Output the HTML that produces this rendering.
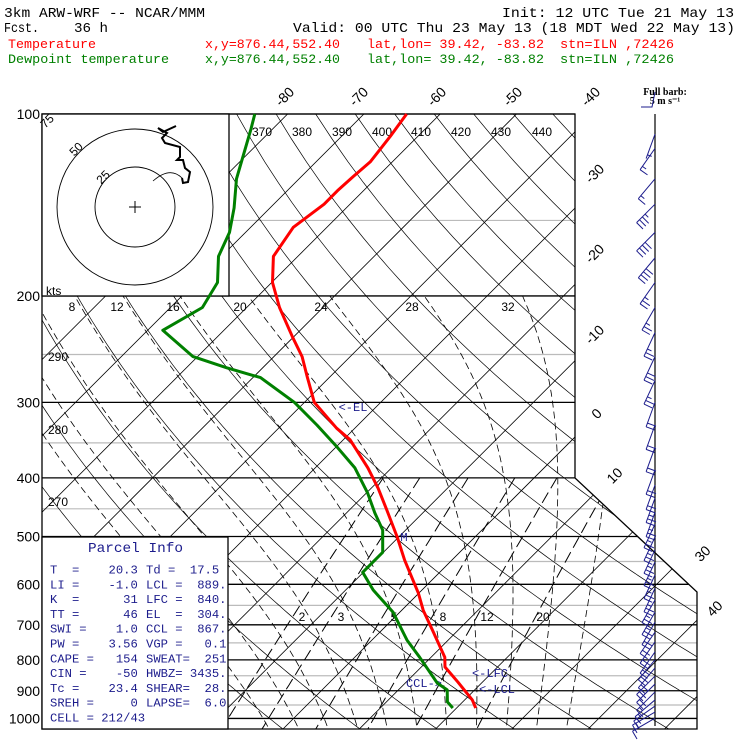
<!DOCTYPE html>
<html><head><meta charset="utf-8"><style>
html,body{margin:0;padding:0;background:#fff}
svg{display:block}
text{font-family:"Liberation Mono",monospace;white-space:pre}
.sans{font-family:"Liberation Sans",sans-serif}
</style></head><body>
<svg id="chart" width="740" height="740" viewBox="0 0 740 740" xmlns="http://www.w3.org/2000/svg" xml:space="preserve">
<defs><clipPath id="plotClip"><path d="M42,114 L575,114 L575,478 L697,592 L697,729 L42,729 Z"/></clipPath></defs>
<g font-size="14">
<text x="4" y="17" textLength="201" lengthAdjust="spacingAndGlyphs">3km ARW-WRF -- NCAR/MMM</text>
<text x="502" y="17" textLength="232" lengthAdjust="spacingAndGlyphs">Init: 12 UTC Tue 21 May 13</text>
<text x="4" y="32" textLength="35" lengthAdjust="spacingAndGlyphs">Fcst.</text>
<text x="74" y="32" textLength="34" lengthAdjust="spacingAndGlyphs">36 h</text>
<text x="293" y="32" textLength="442" lengthAdjust="spacingAndGlyphs">Valid: 00 UTC Thu 23 May 13 (18 MDT Wed 22 May 13)</text>
<g fill="#ff0000" font-size="13">
<text x="8" y="48" textLength="88" lengthAdjust="spacingAndGlyphs">Temperature</text>
<text x="205" y="48" textLength="135" lengthAdjust="spacingAndGlyphs">x,y=876.44,552.40</text>
<text x="367" y="48" textLength="177" lengthAdjust="spacingAndGlyphs">lat,lon= 39.42, -83.82</text>
<text x="560" y="48" textLength="114" lengthAdjust="spacingAndGlyphs">stn=ILN ,72426</text>
</g>
<g fill="#008000" font-size="13">
<text x="8" y="63" textLength="161" lengthAdjust="spacingAndGlyphs">Dewpoint temperature</text>
<text x="205" y="63" textLength="135" lengthAdjust="spacingAndGlyphs">x,y=876.44,552.40</text>
<text x="367" y="63" textLength="177" lengthAdjust="spacingAndGlyphs">lat,lon= 39.42, -83.82</text>
<text x="560" y="63" textLength="114" lengthAdjust="spacingAndGlyphs">stn=ILN ,72426</text>
</g>
</g>
<g id="grid" clip-path="url(#plotClip)"></g>
<g id="overlay"></g>
<g id="data"></g>
</svg>
<script>
const pressureTicks=[100,200,300,400,500,600,700,800,900,1000];
const minorPressures=[150,250,350,450,550,650,750,850,950];
const isoTemps=[-120,-110,-100,-90,-80,-70,-60,-50,-40,-30,-20,-10,0,10,20,30,40,50];
const thetaVals=[250,260,270,280,290,300,310,320,330,340,350,360,370,380,390,400,410,420,430,440,450,460,470,480];
const thetaWVals=[-4,0,4,8,12,16,20,24,28,32,36];
const mixVals=[2,3,5,8,12,20];
const tempP=[100,109,120,127,134,141,154,172,190,209,234,252,272,300,331,346,385,416,452,501,547,620,662,714,792,822,871,932,961];
const tempT=[-64.4,-63.6,-62.9,-63.2,-63.4,-63.4,-64.4,-63.2,-59.9,-55.7,-50.1,-46.3,-43.0,-38.7,-32.4,-29.1,-23.1,-19.1,-15.1,-10.2,-6.2,-0.1,2.8,6.6,11.8,13.1,16.8,21.0,22.5];
const dewP=[100,106,128,143,157,172,190,209,228,252,263,273,300,327,356,385,424,457,488,531,573,613,667,742,792,874,897,939,961];
const dewT=[-84.3,-82.8,-78.2,-74.7,-72.1,-70.4,-67.1,-65.8,-68.0,-60.6,-54.7,-49.0,-41.3,-35.4,-29.8,-24.8,-19.8,-16.3,-13.0,-10.1,-10.1,-6.4,-0.9,4.6,8.5,14.2,16.4,18.0,19.5];
const barbP=[108,114,128,141,157,173,190,209,230,252,276,300,327,356,388,411,432,456,477,501,526,551,579,609,637,667,693,720,747,776,800,825,851,877,904,932,954,976,999];
const barbDir=[200,215,220,225,225,220,215,210,205,205,205,200,200,200,200,200,200,200,205,205,205,205,205,205,210,210,210,215,215,215,220,220,225,225,225,230,235,240,240];
const barbSpd=[2,7,7,17,20,20,12,12,12,15,12,10,10,10,10,10,12,12,12,12,12,12,12,12,12,12,10,10,10,10,10,10,10,10,7,7,7,7,5];
const hodoX=[176,163,158,167,162,165,180,180,177,183,185,190,188,183,182];
const hodoY=[126,132,128,133,138,143,147,157,160,160,168,172,182,183,178];
const parcelRows=[["T  =    20.3","Td =  17.5"],["LI =    -1.0","LCL =  889."],["K  =      31","LFC =  840."],["TT =      46","EL  =  304."],["SWI =    1.0","CCL =  867."],["PW =    3.56","VGP =   0.1"],["CAPE =   154","SWEAT=  251"],["CIN =    -50","HWBZ= 3435."],["Tc =    23.4","SHEAR=  28."],["SREH =     0","LAPSE=  6.0"],["CELL = 212/43",""]];

const NS="http://www.w3.org/2000/svg";
const Y0=114,K=262.5,X0=898,B=7.63;
function yP(p){return Y0+K*Math.log(p/100);}
function xT(T,y){return X0+B*T-(y-Y0);}
function mk(tag,attrs,parent){const e=document.createElementNS(NS,tag);for(const k in attrs)e.setAttribute(k,attrs[k]);parent.appendChild(e);return e;}
const grid=document.getElementById('grid'),ov=document.getElementById('overlay'),dg=document.getElementById('data');
function rightEdge(y){return y<=478?575:(y<=592?575+(y-478)*122/114:697);}
function pathFrom(pts){return pts.map((q,i)=>(i?'L':'M')+q[0].toFixed(1)+','+q[1].toFixed(1)).join(' ');}

minorPressures.forEach(p=>{const y=yP(p);const l=mk('line',{x1:42,y1:y,x2:rightEdge(y),y2:y,stroke:'#bbbbbb','stroke-width':1.2},grid);
});
isoTemps.forEach(T=>{const y1=Y0,y2=740;const l=mk('line',{x1:xT(T,y1),y1:y1,x2:xT(T,y2),y2:y2,stroke:'#000','stroke-width':0.8},grid);
});
thetaVals.forEach(th=>{const pts=[];for(let p=100;p<=1060;p+=10){const T=th*Math.pow(p/1000,0.2857)-273.15;const y=yP(p);pts.push([xT(T,y),y]);}
const e=mk('path',{d:pathFrom(pts),fill:'none',stroke:'#000','stroke-width':0.7},grid);
});
function es(T){return 6.112*Math.exp(17.67*T/(T+243.5));}
function moist(tw){const pts=[];const step=(p0,p1,T)=>{let T0=T;const n=20,dp=(p1-p0)/n;let p=p0;for(let i=0;i<n;i++){const Tk=T0+273.15;const rs=0.622*es(T0)/(p-es(T0));const L=2.5e6,Rd=287,cp=1005;const dTdp=(1/p)*(Rd*Tk+L*rs)/(cp+L*L*rs*0.622/(Rd*Tk*Tk));T0+=dTdp*dp;p+=dp;}return T0;};
let T=tw;for(let p=1000;p>=200;p-=10){const y=yP(p);pts.push([xT(T,y),y]);T=step(p,p-10,T);}
const down=[];T=tw;for(let p=1000;p<=1060;p+=10){T=step(p,p+10,T);const y=yP(p+10);down.push([xT(T,y),y]);}
return down.reverse().concat(pts);}
thetaWVals.forEach(tw=>{const e=mk('path',{d:pathFrom(moist(tw)),fill:'none',stroke:'#000','stroke-width':0.8,'stroke-dasharray':'7,4'},grid);
});
mixVals.forEach(w=>{const pts=[];for(let p=400;p<=1060;p+=10){const e=w*p/(622+w);const a=Math.log(e/6.112);const Td=243.5*a/(17.67-a);const y=yP(p);pts.push([xT(Td,y),y]);}
const e=mk('path',{d:pathFrom(pts),fill:'none',stroke:'#000','stroke-width':1,'stroke-dasharray':'12,5'},grid);
});
pressureTicks.forEach(p=>{const y=yP(p);const l=mk('line',{x1:42,y1:y,x2:rightEdge(y),y2:y,stroke:'#000','stroke-width':1.3},ov);

const t=mk('text',{x:40,y:y+5,'text-anchor':'end','font-size':14,class:'sans'},ov);t.textContent=p;
});
const bd=mk('path',{d:'M42,114 L575,114 L575,478 L697,592 L697,729 L42,729 Z',fill:'none',stroke:'#000','stroke-width':1.3},ov);

const hb=mk('rect',{x:42,y:114,width:187,height:182,fill:'#fff',stroke:'#000','stroke-width':1.3},ov);

[40,78].forEach(r=>{const c=mk('circle',{cx:135,cy:207,r:r,fill:'none',stroke:'#000','stroke-width':0.9},ov);
});
mk('path',{d:'M129,207 H141 M135,201 V213',stroke:'#000','stroke-width':1},ov);
mk('path',{d:'M153,181 Q170,166 182,178',fill:'none',stroke:'#000','stroke-width':0.8},ov);
const hp=mk('polyline',{points:hodoX.map((x,i)=>x+','+hodoY[i]).join(' '),fill:'none',stroke:'#000','stroke-width':2},ov);

[["25",106,180],["50",79,152],["75",50,124]].forEach(a=>{const t=mk('text',{x:a[1],y:a[2],'font-size':12,class:'sans',transform:'rotate(-45 '+a[1]+' '+a[2]+')','text-anchor':'middle'},ov);t.textContent=a[0];
});
const kt=mk('text',{x:46,y:295,'font-size':12,class:'sans'},ov);kt.textContent='kts';
const pb=mk('rect',{x:42,y:537,width:186,height:192,fill:'#fff',stroke:'#000','stroke-width':1.3},ov);

const pt=mk('text',{x:88,y:552,'font-size':14,fill:'#1c1c8c',textLength:95,lengthAdjust:'spacingAndGlyphs'},ov);pt.textContent='Parcel Info';

parcelRows.forEach((r,i)=>{const y=573.5+i*14.8;
const a=mk('text',{x:50,y:y,'font-size':12.2,fill:'#1c1c8c'},ov);a.textContent=r[0];

if(r[1]){const b=mk('text',{x:146,y:y,'font-size':12.2,fill:'#1c1c8c'},ov);b.textContent=r[1];
}});
function lab(txt,x,y,rot,name,fs,fill){const t=mk('text',{x:x,y:y,'font-size':fs||14,class:'sans','text-anchor':'middle',fill:fill||'#000'},ov);if(rot)t.setAttribute('transform','rotate('+rot+' '+x+' '+y+')');t.textContent=txt;
}
[["-80",288,100],["-70",362,100],["-60",440,100],["-50",516,100],["-40",594,100],["-30",598,177],["-20",598,257],["-10",598,338],["0",600,417],["10",618,479],["30",706,557],["40",718,612]].forEach(a=>lab(a[0],a[1],a[2],-45,'isotherm-label',14));
[["370",262,136],["380",302,136],["390",342,136],["400",382,136],["410",421,136],["420",461,136],["430",501,136],["440",542,136],["290",58,361],["280",58,434],["270",58,506]].forEach(a=>lab(a[0],a[1],a[2],0,'dry-adiabat-label',12));
[["8",72,311],["12",117,311],["16",173,311],["20",240,311],["24",321,311],["28",412,311],["32",508,311]].forEach(a=>lab(a[0],a[1],a[2],0,'moist-adiabat-label',12));
[["2",302,621],["3",341,621],["5",394,621],["8",443,621],["12",487,621],["20",543,621]].forEach(a=>lab(a[0],a[1],a[2],0,'mixing-ratio-label',12));
[["<-EL",353,411],["<-LFC",490,677],["<-LCL",497,693],["CCL->",424,687],["M",404,541]].forEach(a=>{const t=mk('text',{x:a[1],y:a[2],'font-size':12,'text-anchor':'middle',fill:'#1c1c8c'},ov);t.textContent=a[0];
});
mk('line',{x1:655,y1:114,x2:655,y2:726,stroke:'#000','stroke-width':1.2},ov);
const fb=mk('text',{x:665,y:95,'font-size':10,'font-weight':'bold','text-anchor':'middle',style:'font-family:"Liberation Serif",serif'},ov);fb.textContent='Full barb:';

const fb2=mk('text',{x:665,y:104,'font-size':10,'font-weight':'bold','text-anchor':'middle',style:'font-family:"Liberation Serif",serif'},ov);fb2.textContent='5 m s⁻¹';

mk('path',{d:'M641,107 L652,107 L655,92',fill:'none',stroke:'#1c1c8c','stroke-width':1},ov);
barbP.forEach((p,i)=>{const y=yP(p),x=655;const d=barbDir[i]*Math.PI/180;const ux=Math.sin(d),uy=-Math.cos(d);const L=26;
const ex=x+ux*L,ey=y+uy*L;let s='M'+x+','+y+' L'+ex.toFixed(1)+','+ey.toFixed(1);
let spd=barbSpd[i];const fx=uy*9,fy=-ux*9;let pos=0;
while(spd>=4.9){const bx=ex-ux*pos*4,by=ey-uy*pos*4;s+=' M'+bx.toFixed(1)+','+by.toFixed(1)+' l'+fx.toFixed(1)+','+fy.toFixed(1);spd-=5;pos++;}
if(spd>=2){if(pos==0)pos=1;const bx=ex-ux*pos*4,by=ey-uy*pos*4;s+=' M'+bx.toFixed(1)+','+by.toFixed(1)+' l'+(fx/2).toFixed(1)+','+(fy/2).toFixed(1);}
const e=mk('path',{d:s,fill:'none',stroke:'#1c1c8c','stroke-width':1},dg);
});
function prof(P,T,color,name){const pts=P.map((p,i)=>{const y=yP(p);return [xT(T[i],y),y];});
const e=mk('path',{d:pathFrom(pts),fill:'none',stroke:color,'stroke-width':3,'stroke-linejoin':'round'},dg);
}
prof(tempP,tempT,'#ff0000','temperature-profile');
prof(dewP,dewT,'#008000','dewpoint-profile');
</script>
</body></html>
